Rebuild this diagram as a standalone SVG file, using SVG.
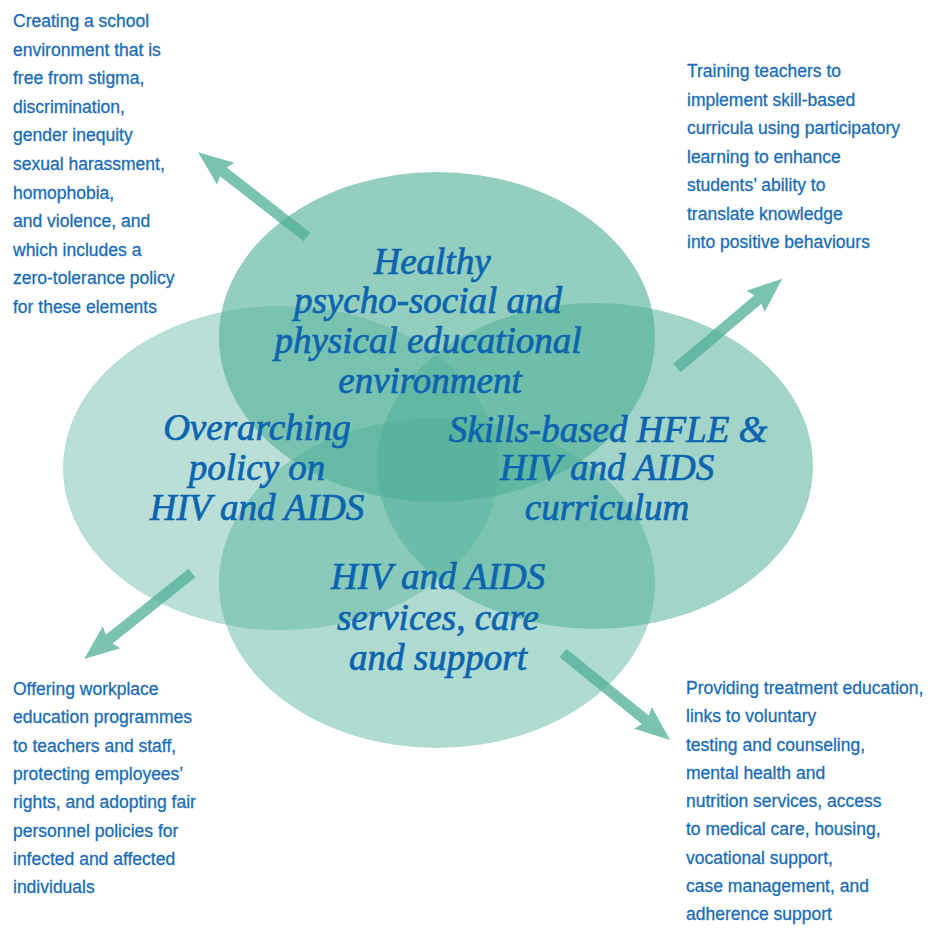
<svg xmlns="http://www.w3.org/2000/svg" xmlns:xlink="http://www.w3.org/1999/xlink" width="931" height="928" viewBox="0 0 931 928">
<style>
.blob{fill:rgb(80,176,152)}
.lbl{font-family:"Liberation Serif","Times New Roman",serif;font-style:italic;font-size:37px;fill:#0b64b0;stroke:#0b64b0;stroke-width:0.7;text-anchor:middle}
.body{font-family:"Liberation Sans",Arial,sans-serif;font-size:17.5px;fill:#1a6db5;stroke:#1a6db5;stroke-width:0.3}
.arr{fill:rgb(80,176,152);fill-opacity:0.76}
</style>
<defs>
<path id="arrow" d="M0,-5.5 L106,-5.5 L103,-14 L138,0 L103,14 L106,5.5 L0,5.5 Z"/>
</defs>
<rect width="931" height="928" fill="#fff"/>
<g id="node-policy">
<ellipse class="blob" cx="281" cy="468" rx="218" ry="162" fill-opacity="0.4"/>
</g>
<g id="node-environment">
<ellipse class="blob" cx="437" cy="337" rx="218" ry="165" fill-opacity="0.62"/>
</g>
<g id="node-curriculum">
<ellipse class="blob" cx="595" cy="466" rx="218" ry="163" fill-opacity="0.53"/>
</g>
<g id="node-services">
<ellipse class="blob" cx="437" cy="583" rx="218" ry="165" fill-opacity="0.46"/>
</g>
<g id="labels">
<text class="lbl"><tspan x="432" y="274">Healthy</tspan><tspan x="428" y="313">psycho-social and</tspan><tspan x="428" y="353">physical educational</tspan><tspan x="430" y="393">environment</tspan></text>
<text class="lbl"><tspan x="257" y="440">Overarching</tspan><tspan x="257" y="480">policy on</tspan><tspan x="257" y="520">HIV and AIDS</tspan></text>
<text class="lbl"><tspan x="608" y="442">Skills-based HFLE &amp;</tspan><tspan x="607" y="480">HIV and AIDS</tspan><tspan x="607" y="520">curriculum</tspan></text>
<text class="lbl"><tspan x="438" y="589">HIV and AIDS</tspan><tspan x="438" y="630">services, care</tspan><tspan x="438" y="670">and support</tspan></text>
</g>
<g id="connectors">
<use xlink:href="#arrow" href="#arrow" class="arr" transform="translate(307,237) rotate(-142.1)"/>
<use xlink:href="#arrow" href="#arrow" class="arr" transform="translate(677,368) rotate(-40.3)"/>
<use xlink:href="#arrow" href="#arrow" class="arr" transform="translate(192,573) rotate(141.4)"/>
<use xlink:href="#arrow" href="#arrow" class="arr" transform="translate(563,653) rotate(39.1)"/>
</g>
<g id="text-top-left">
<text class="body"><tspan x="13" y="27">Creating a school</tspan><tspan x="13" y="55.6">environment that is</tspan><tspan x="13" y="84.2">free from stigma,</tspan><tspan x="13" y="112.8">discrimination,</tspan><tspan x="13" y="141.4">gender inequity</tspan><tspan x="13" y="170">sexual harassment,</tspan><tspan x="13" y="198.6">homophobia,</tspan><tspan x="13" y="227.2">and violence, and</tspan><tspan x="13" y="255.8">which includes a</tspan><tspan x="13" y="284.4">zero-tolerance policy</tspan><tspan x="13" y="313">for these elements</tspan></text>
</g>
<g id="text-top-right">
<text class="body"><tspan x="687" y="77">Training teachers to</tspan><tspan x="687" y="105.5">implement skill-based</tspan><tspan x="687" y="134">curricula using participatory</tspan><tspan x="687" y="162.5">learning to enhance</tspan><tspan x="687" y="191">students’ ability to</tspan><tspan x="687" y="219.5">translate knowledge</tspan><tspan x="687" y="248">into positive behaviours</tspan></text>
</g>
<g id="text-bottom-left">
<text class="body"><tspan x="13" y="695">Offering workplace</tspan><tspan x="13" y="723.3">education programmes</tspan><tspan x="13" y="751.6">to teachers and staff,</tspan><tspan x="13" y="779.9">protecting employees’</tspan><tspan x="13" y="808.2">rights, and adopting fair</tspan><tspan x="13" y="836.5">personnel policies for</tspan><tspan x="13" y="864.8">infected and affected</tspan><tspan x="13" y="893">individuals</tspan></text>
</g>
<g id="text-bottom-right">
<text class="body"><tspan x="686" y="694">Providing treatment education,</tspan><tspan x="686" y="722.3">links to voluntary</tspan><tspan x="686" y="750.5">testing and counseling,</tspan><tspan x="686" y="778.8">mental health and</tspan><tspan x="686" y="807">nutrition services, access</tspan><tspan x="686" y="835.3">to medical care, housing,</tspan><tspan x="686" y="863.5">vocational support,</tspan><tspan x="686" y="891.8">case management, and</tspan><tspan x="686" y="920">adherence support</tspan></text>
</g>
</svg>
